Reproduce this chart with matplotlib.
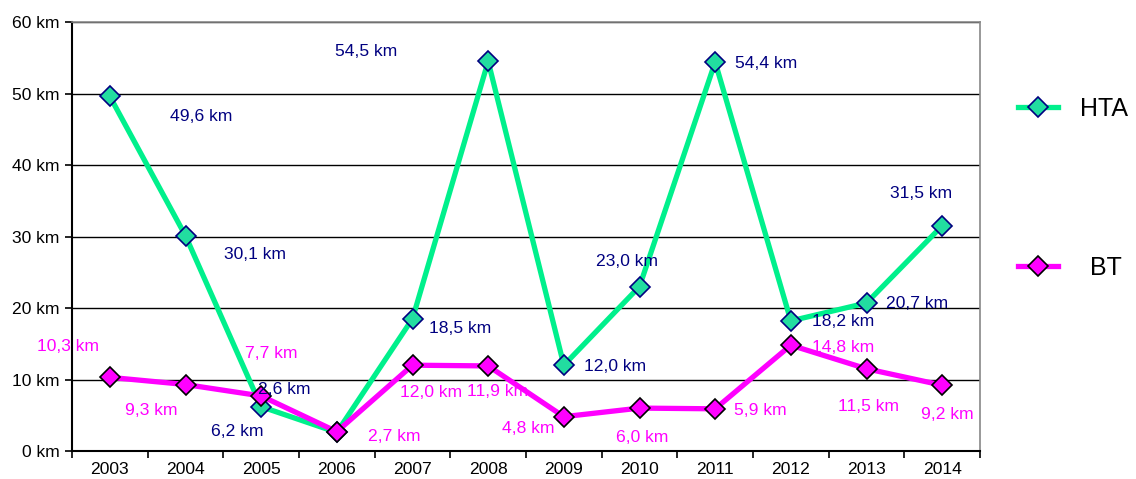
import numpy as np
import matplotlib.pyplot as plt
from matplotlib.lines import Line2D

plt.rcParams['font.family'] = ['Liberation Sans', 'DejaVu Sans']

years = ['2003', '2004', '2005', '2006', '2007', '2008', '2009', '2010', '2011', '2012', '2013', '2014']
hta = [49.6, 30.1, 6.2, 2.6, 18.5, 54.5, 12.0, 23.0, 54.4, 18.2, 20.7, 31.5]
bt = [10.3, 9.3, 7.7, 2.7, 12.0, 11.9, 4.8, 6.0, 5.9, 14.8, 11.5, 9.2]

# label offsets in pixels (dx, dy) relative to each point
hta_off = [(91, -20), (70, -19), (-24, -25), (-53, 43), (48, -10), (-122, 10),
           (51, -1), (-13, 25), (51, -1), (52, -1), (51, -1), (-21, 32)]
bt_off = [(-42, 31), (-34, -26), (10, 42), (57, -5), (19, -27), (9, -26),
          (-36, -12), (3, -29), (45, -2), (52, -2), (2, -38), (5, -29)]

hta_col = '#00F08C'
bt_col = '#FF00FF'
navy = '#000080'
fs = 12.6

fig = plt.figure(figsize=(11.36, 4.79), dpi=100)
ax = fig.add_axes([72/1136, 28/479, 908/1136, 429/479])

x = np.arange(len(years))
ax.plot(x, hta, color=hta_col, lw=3.8, marker='D', ms=10, mfc='#22DDA0',
        mec=navy, mew=1.2, zorder=3)
ax.plot(x, bt, color=bt_col, lw=3.8, marker='D', ms=10, mfc=bt_col,
        mec='black', mew=1.2, zorder=4)

def fmt(v):
    return '{:.1f} km'.format(v).replace('.', ',')

for i in range(len(years)):
    ax.annotate(fmt(hta[i]), (x[i], hta[i]), xytext=hta_off[i], textcoords='offset pixels',
                ha='center', va='center', color=navy, fontsize=fs, zorder=5)
    ax.annotate(fmt(bt[i]), (x[i], bt[i]), xytext=bt_off[i], textcoords='offset pixels',
                ha='center', va='center', color=bt_col, fontsize=fs, zorder=5)

ax.set_xlim(-0.5, len(years) - 0.5)
ax.set_ylim(0, 60)
ax.set_yticks(range(0, 61, 10))
ax.set_yticklabels(['{} km'.format(v) for v in range(0, 61, 10)], fontsize=fs)
ax.set_xticks(x)
ax.set_xticklabels(years, fontsize=fs)
ax.set_xticks(np.arange(-0.5, len(years), 1), minor=True)
ax.tick_params(axis='x', which='major', length=0, pad=8)
ax.tick_params(axis='x', which='minor', length=5, width=1.2, direction='out')
ax.tick_params(axis='y', length=5, width=1.2, direction='out', pad=4)
ax.yaxis.grid(True, color='black', lw=1)
ax.set_axisbelow(True)
for s in ['left', 'bottom']:
    ax.spines[s].set_linewidth(1.5)
for s in ['top', 'right']:
    ax.spines[s].set_color('#888888')
    ax.spines[s].set_linewidth(1.2)

h1 = Line2D([], [], color=hta_col, lw=3.8, marker='D', ms=10, mfc='#22DDA0', mec=navy, mew=1.2)
h2 = Line2D([], [], color=bt_col, lw=3.8, marker='D', ms=10, mfc=bt_col, mec='black', mew=1.2)
fig.legend([h1], ['HTA'], loc='center left', bbox_to_anchor=(1005/1136, 1 - 109/479),
           frameon=False, fontsize=18, handlelength=1.6, borderpad=0, handletextpad=0.9)
fig.legend([h2], ['BT'], loc='center left', bbox_to_anchor=(1005/1136, 1 - 268/479),
           frameon=False, fontsize=18, handlelength=1.6, borderpad=0, handletextpad=1.3)

fig.savefig('out.png', dpi=100)
